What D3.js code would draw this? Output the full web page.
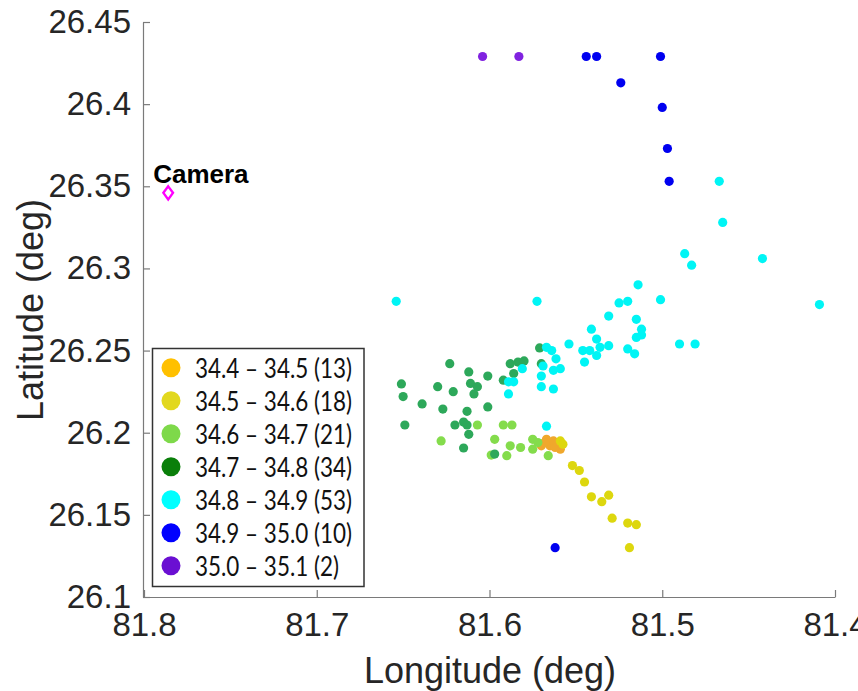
<!DOCTYPE html>
<html>
<head>
<meta charset="utf-8">
<script src="https://d3js.org/d3.v7.min.js"></script>
<style>
  html, body { margin: 0; padding: 0; background: #fff; }
  svg { display: block; }
</style>
</head>
<body>
<svg id="chart" width="858" height="691"></svg>
<script>
// Salinity bins: legend labels, counts and colours
const binLabels = ["34.4 \u2013 34.5 (13)", "34.5 \u2013 34.6 (18)", "34.6 \u2013 34.7 (21)",
                   "34.7 \u2013 34.8 (34)", "34.8 \u2013 34.9 (53)", "34.9 \u2013 35.0 (10)", "35.0 \u2013 35.1 (2)"];
const legendColors = ["#FFC000", "#E2D81E", "#7ED94A", "#0A7F0A", "#00FFFF", "#0000FF", "#6A0FD2"];
const pointColors  = ["#F0A82C", "#DDD70E", "#84DC4C", "#2DA85A", "#00F5F5", "#0000F0", "#8022E0"];

// Observation positions per bin: [longitude, latitude]
const bin344 = [[81.567,26.196],[81.570,26.192],[81.565,26.192],[81.561,26.194],[81.559,26.190],
                [81.563,26.195],[81.568,26.194],[81.562,26.191]];
const bin345 = [[81.559,26.195],[81.5575,26.193],[81.552,26.180],[81.548,26.177],[81.545,26.170],
                [81.541,26.161],[81.535,26.158],[81.531,26.162],[81.529,26.148],[81.520,26.145],
                [81.515,26.144],[81.519,26.130]];
const bin346 = [[81.628,26.195],[81.607,26.2047],[81.592,26.2047],[81.587,26.2047],[81.597,26.196],
                [81.588,26.192],[81.582,26.191],[81.575,26.196],[81.572,26.194],[81.575,26.190],
                [81.599,26.1864],[81.590,26.186],[81.566,26.186]];
const bin347 = [[81.623,26.242],[81.612,26.237],[81.601,26.2345],[81.588,26.242],[81.5835,26.243],
                [81.580,26.2437],[81.586,26.236],[81.592,26.232],[81.571,26.2516],[81.570,26.242],
                [81.651,26.2297],[81.650,26.222],[81.630,26.228],[81.621,26.225],[81.611,26.230],
                [81.607,26.228],[81.609,26.2236],[81.639,26.2175],[81.627,26.2144],[81.613,26.213],
                [81.601,26.2157],[81.649,26.2047],[81.620,26.2047],[81.615,26.2065],[81.613,26.2047],
                [81.612,26.199],[81.615,26.1907],[81.597,26.187]];
const bin348 = [[81.654,26.280],[81.5725,26.280],[81.467,26.353],[81.465,26.328],[81.487,26.309],
                [81.483,26.302],[81.442,26.306],[81.501,26.281],[81.409,26.278],[81.490,26.254],
                [81.481,26.254],[81.514,26.290],[81.525,26.279],[81.520,26.280],[81.531,26.271],
                [81.515,26.269],[81.512,26.263],[81.541,26.263],[81.515,26.258],[81.512,26.2595],
                [81.538,26.257],[81.554,26.254],[81.531,26.253],[81.546,26.250],[81.542,26.250],
                [81.536,26.252],[81.538,26.247],[81.520,26.251],[81.516,26.248],[81.545,26.243],
                [81.567,26.252],[81.564,26.250],[81.5615,26.245],[81.559,26.239],[81.563,26.238],
                [81.569,26.2406],[81.570,26.2345],[81.581,26.239],[81.589,26.231],[81.586,26.231],
                [81.589,26.2236],[81.570,26.228],[81.563,26.2266],[81.567,26.204]];
const bin349 = [[81.544,26.429],[81.538,26.429],[81.501,26.429],[81.524,26.413],[81.500,26.398],
                [81.497,26.373],[81.496,26.353],[81.562,26.130]];
const bin350 = [[81.604,26.429],[81.583,26.429]];
const bins = [bin344, bin345, bin346, bin347, bin348, bin349, bin350];

// Camera location
const camera = [81.786, 26.346];

// Axis ticks
const lonTicks = [81.8, 81.7, 81.6, 81.5, 81.4];
const latTicks = [26.1, 26.15, 26.2, 26.25, 26.3, 26.35, 26.4, 26.45];

const svg = d3.select("#chart");
const x = d3.scaleLinear().domain([81.8, 81.4]).range([144, 835]);
const y = d3.scaleLinear().domain([26.1, 26.45]).range([597, 22]);

const axisColor = "#7a7a7a";
const textColor = "#262626";
const tickFont = "Liberation Sans, Arial, sans-serif";

// Axes (ticks point inward)
const gx = svg.append("g").attr("transform", `translate(0,${y.range()[0]})`)
  .call(d3.axisBottom(x).tickValues(lonTicks).tickFormat(d3.format(".1f"))
        .tickSizeInner(-7).tickSizeOuter(0).tickPadding(16));
const gy = svg.append("g").attr("transform", `translate(${x.range()[0] - 1},0)`)
  .call(d3.axisLeft(y).tickValues(latTicks).tickFormat(d => String(+d.toFixed(2)))
        .tickSizeInner(-7).tickSizeOuter(0).tickPadding(12));
[gx, gy].forEach(g => {
  g.select(".domain").attr("stroke", axisColor).attr("stroke-width", 1.2);
  g.selectAll(".tick line").attr("stroke", axisColor).attr("stroke-width", 1.2);
  g.selectAll(".tick text").attr("fill", textColor)
    .style("font-family", tickFont).style("font-size", "33px");
});

// Axis titles
svg.append("text").attr("x", 490).attr("y", 683).attr("text-anchor", "middle")
  .attr("fill", textColor).style("font-family", tickFont).style("font-size", "36px")
  .text("Longitude (deg)");
svg.append("text").attr("transform", "translate(43,310) rotate(-90)").attr("text-anchor", "middle")
  .attr("fill", textColor).style("font-family", tickFont).style("font-size", "36px")
  .text("Latitude (deg)");

// Scatter points, one group per salinity bin
bins.forEach((pts, i) => {
  svg.append("g").selectAll("circle").data(pts).join("circle")
    .attr("cx", d => x(d[0])).attr("cy", d => y(d[1])).attr("r", 4.6)
    .attr("fill", pointColors[i]);
});

// Camera marker and label
const cx = x(camera[0]), cy = y(camera[1]);
svg.append("path")
  .attr("d", `M${cx},${cy - 6.5}L${cx + 4.8},${cy}L${cx},${cy + 6.5}L${cx - 4.8},${cy}Z`)
  .attr("fill", "#fff").attr("stroke", "#FF00FF").attr("stroke-width", 2.4);
svg.append("text").attr("x", cx - 15).attr("y", cy - 10)
  .attr("fill", "#000").style("font-family", tickFont).style("font-size", "26px")
  .style("font-weight", "bold").text("Camera");

// Legend
const lg = svg.append("g");
lg.append("rect").attr("x", 152.5).attr("y", 348.5).attr("width", 211.5).attr("height", 238)
  .attr("fill", "#fff").attr("stroke", "#333").attr("stroke-width", 1.5);
const rows = lg.selectAll("g.row").data(binLabels).join("g").attr("class", "row")
  .attr("transform", (d, i) => `translate(0,${367.7 + 33 * i})`);
rows.append("circle").attr("cx", 171).attr("cy", 0).attr("r", 9.5)
  .attr("fill", (d, i) => legendColors[i]);
const legendText = rows.append("text").attr("x", 195).attr("y", 10).attr("fill", "#111")
  .style("font-family", "Lato, 'Open Sans', sans-serif").style("font-size", "26px")
  .text(d => d);
// Narrow the legend glyphs so the longest entry spans 157px
const squeeze = 157 / legendText.node().getComputedTextLength();
legendText.each(function () {
  const w = this.getComputedTextLength();
  d3.select(this).attr("textLength", w * squeeze).attr("lengthAdjust", "spacingAndGlyphs");
});
</script>
</body>
</html>
